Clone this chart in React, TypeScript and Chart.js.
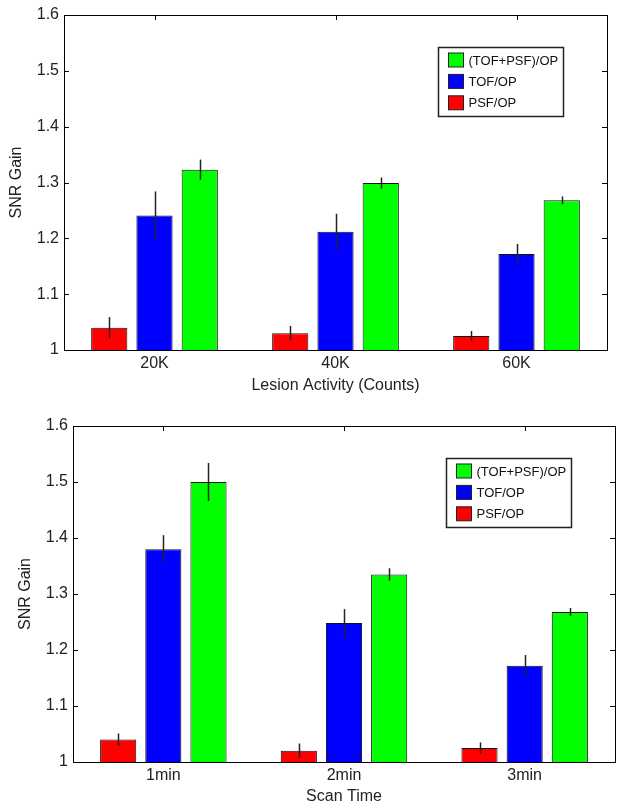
import React, { useEffect, useRef } from "react";
import { Chart, registerables } from "chart.js";

Chart.register(...registerables);

const seriesLabels = ["PSF/OP", "TOF/OP", "(TOF+PSF)/OP"];
const seriesColors = ["#ff0000", "#0000ff", "#00ff00"];

const activityCategories = ["20K", "40K", "60K"];
const activityPSF = [1.04, 1.03, 1.025];
const activityPSFErr = [0.019, 0.013, 0.009];
const activityTOF = [1.241, 1.212, 1.172];
const activityTOFErr = [0.043, 0.032, 0.018];
const activityBoth = [1.323, 1.299, 1.268];
const activityBothErr = [0.018, 0.01, 0.007];

const timeCategories = ["1min", "2min", "3min"];
const timePSF = [1.04, 1.02, 1.025];
const timePSFErr = [0.011, 0.013, 0.01];
const timeTOF = [1.38, 1.248, 1.172];
const timeTOFErr = [0.025, 0.025, 0.019];
const timeBoth = [1.5, 1.335, 1.268];
const timeBothErr = [0.034, 0.011, 0.007];

const yTicks = [1, 1.1, 1.2, 1.3, 1.4, 1.5, 1.6];

const FONT = "'Liberation Sans', Arial, sans-serif";

const boxPlugin = {
  id: "matlabBox",
  afterDatasetsDraw(chart: any) {
    const { ctx, chartArea: a, scales } = chart;
    ctx.save();
    // error bars
    ctx.strokeStyle = "#222";
    ctx.lineWidth = 1.5;
    chart.data.datasets.forEach((ds: any, i: number) => {
      const meta = chart.getDatasetMeta(i);
      meta.data.forEach((el: any, j: number) => {
        const v = ds.data[j];
        const e = ds.errors[j];
        const y1 = scales.y.getPixelForValue(v + e);
        const y2 = scales.y.getPixelForValue(v - e);
        ctx.beginPath();
        ctx.moveTo(Math.round(el.x) + 0.5, y1);
        ctx.lineTo(Math.round(el.x) + 0.5, y2);
        ctx.stroke();
      });
    });
    // box
    ctx.strokeStyle = "#000";
    ctx.lineWidth = 1;
    ctx.strokeRect(
      Math.round(a.left) + 0.5,
      Math.round(a.top) + 0.5,
      Math.round(a.right - a.left),
      Math.round(a.bottom - a.top)
    );
    // y ticks inward, both sides
    scales.y.ticks.forEach((t: any) => {
      const y = Math.round(scales.y.getPixelForValue(t.value)) + 0.5;
      ctx.beginPath();
      ctx.moveTo(a.left, y);
      ctx.lineTo(a.left + 5, y);
      ctx.moveTo(a.right, y);
      ctx.lineTo(a.right - 5, y);
      ctx.stroke();
    });
    // x ticks at top
    scales.x.ticks.forEach((_t: any, i: number) => {
      const x = Math.round(scales.x.getPixelForTick(i)) + 0.5;
      ctx.beginPath();
      ctx.moveTo(x, a.top);
      ctx.lineTo(x, a.top + 5);
      ctx.stroke();
    });
    // legend
    const bw = 125;
    const bh = 69;
    const bx = Math.round(a.right - 44 - bw) + 0.5;
    const by = Math.round(a.top + 32) + 0.5;
    ctx.fillStyle = "#fff";
    ctx.fillRect(bx, by, bw, bh);
    ctx.strokeStyle = "#222";
    ctx.lineWidth = 1.5;
    ctx.strokeRect(bx, by, bw, bh);
    const order = [2, 1, 0];
    ctx.font = `13px ${FONT}`;
    ctx.textBaseline = "middle";
    ctx.textAlign = "left";
    order.forEach((di, k) => {
      const ds = chart.data.datasets[di];
      const cy = by + 12.5 + k * 21.4;
      ctx.fillStyle = ds.backgroundColor;
      ctx.fillRect(bx + 10, cy - 7, 15, 14);
      ctx.strokeStyle = "#222";
      ctx.lineWidth = 1;
      ctx.strokeRect(bx + 10, cy - 7, 15, 14);
      ctx.fillStyle = "#111";
      ctx.fillText(ds.label, bx + 30, cy + 1);
    });
    ctx.restore();
  },
};

type Props = {
  width: number;
  height: number;
  categories: string[];
  psf: number[];
  psfErr: number[];
  tof: number[];
  tofErr: number[];
  both: number[];
  bothErr: number[];
  xTitle: string;
  padTop: number;
  padLeft: number;
  padRight: number;
  xHeight: number;
};

function BarChart(p: Props) {
  const ref = useRef<HTMLCanvasElement>(null);
  useEffect(() => {
    if (!ref.current) return;
    const mk = (i: number, data: number[], errors: number[]) => ({
      label: seriesLabels[i],
      data,
      errors,
      backgroundColor: seriesColors[i],
      borderColor: "#111",
      borderWidth: 1,
      categoryPercentage: 0.75,
      barPercentage: 0.8,
    });
    const chart = new Chart(ref.current, {
      type: "bar",
      data: {
        labels: p.categories,
        datasets: [
          mk(0, p.psf, p.psfErr),
          mk(1, p.tof, p.tofErr),
          mk(2, p.both, p.bothErr),
        ] as any,
      },
      options: {
        animation: false,
        responsive: false,
        devicePixelRatio: 1,
        layout: {
          padding: { top: p.padTop, left: p.padLeft, right: p.padRight, bottom: 0 },
        },
        plugins: {
          legend: { display: false },
          tooltip: { enabled: false },
        },
        scales: {
          x: {
            grid: { display: false, drawTicks: false },
            border: { display: false },
            ticks: {
              color: "#222",
              font: { family: FONT, size: 16 },
              padding: 4,
            },
            title: {
              display: true,
              text: p.xTitle,
              color: "#222",
              font: { family: FONT, size: 16 },
              padding: { top: 0, bottom: 5 },
            },
            afterFit(scale: any) {
              scale.height = p.xHeight;
              scale.paddingLeft = 0;
              scale.paddingRight = 0;
            },
          },
          y: {
            min: 1,
            max: 1.6,
            afterBuildTicks(scale: any) {
              scale.ticks = yTicks.map((v) => ({ value: v }));
            },
            grid: { display: false, drawTicks: false },
            border: { display: false },
            ticks: {
              color: "#222",
              font: { family: FONT, size: 16 },
              padding: 5,
              callback: (v: any) => String(Number(v)),
            },
            title: {
              display: true,
              text: "SNR Gain",
              color: "#222",
              font: { family: FONT, size: 16 },
              padding: { top: 7, bottom: 0 },
            },
            afterFit(scale: any) {
              scale.width = 64;
              scale.paddingTop = 0;
              scale.paddingBottom = 0;
            },
          },
        },
      },
      plugins: [boxPlugin],
    });
    return () => chart.destroy();
  }, []);
  return (
    <canvas
      ref={ref}
      width={p.width}
      height={p.height}
      style={{ display: "block", width: p.width, height: p.height }}
    />
  );
}

export default function App() {
  return (
    <div
      style={{
        position: "absolute",
        left: 0,
        top: 0,
        width: 624,
        height: 811,
        background: "#fff",
      }}
    >
      <BarChart
        width={624}
        height={400}
        categories={activityCategories}
        psf={activityPSF}
        psfErr={activityPSFErr}
        tof={activityTOF}
        tofErr={activityTOFErr}
        both={activityBoth}
        bothErr={activityBothErr}
        xTitle="Lesion Activity (Counts)"
        padTop={15}
        padLeft={0}
        padRight={17}
        xHeight={50}
      />
      <BarChart
        width={624}
        height={411}
        categories={timeCategories}
        psf={timePSF}
        psfErr={timePSFErr}
        tof={timeTOF}
        tofErr={timeTOFErr}
        both={timeBoth}
        bothErr={timeBothErr}
        xTitle="Scan Time"
        padTop={26}
        padLeft={9}
        padRight={9}
        xHeight={49}
      />
    </div>
  );
}
